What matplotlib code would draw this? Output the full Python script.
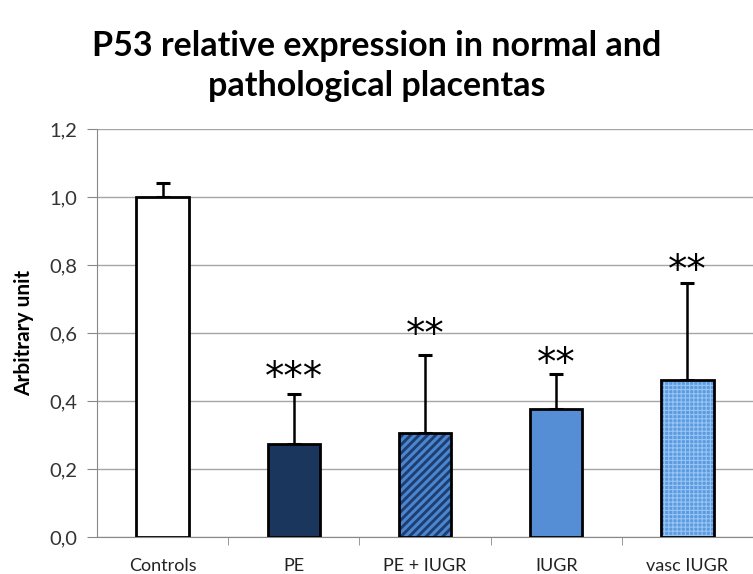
import matplotlib
matplotlib.use("Agg")
import matplotlib.pyplot as plt
from matplotlib.ticker import FuncFormatter, MultipleLocator

categories = ["Controls", "PE", "PE + IUGR", "IUGR", "vasc IUGR"]
values = [1.00, 0.275, 0.305, 0.378, 0.462]
errors = [0.042, 0.145, 0.23, 0.103, 0.285]
stars = ["", "***", "**", "**", "**"]
star_heights = [None, 0.435, 0.563, 0.477, 0.751]

plt.rcParams["font.family"] = ["Lato", "DejaVu Sans"]
plt.rcParams["hatch.linewidth"] = 2.2

fig = plt.figure(figsize=(7.53, 5.74), dpi=100)
ax = fig.add_axes([0.129, 0.0645, 0.871, 0.7105])

x = list(range(len(categories)))
faces = ["white", "#1b365d", "#1f3d6e", "#558ed5", "#5b9be2"]
hatches = [None, None, "////", None, "++++"]
hatch_cols = [None, None, "#4a86d0", None, "#98c5f2"]
hatch_lws = [None, None, 2.2, None, 0.8]

for i in x:
    b = ax.bar(i, values[i], width=0.4, color=faces[i], edgecolor="black",
               linewidth=2.0, zorder=3)
    if hatches[i]:
        bar = b[0]
        bar.set_hatch(hatches[i])
        bar._hatch_color = matplotlib.colors.to_rgba(hatch_cols[i])
        if hasattr(bar, "set_hatch_linewidth"):
            bar.set_hatch_linewidth(hatch_lws[i])
    ax.errorbar(i, values[i], yerr=[[0], [errors[i]]], fmt="none", ecolor="black",
                elinewidth=1.8, capsize=5, capthick=2.2, zorder=2)
    if stars[i]:
        ax.text(i, star_heights[i], stars[i], ha="center", va="baseline",
                fontsize=28, family="DejaVu Sans", zorder=4)

ax.set_xlim(-0.5, 4.5)
ax.set_ylim(0, 1.2)
ax.yaxis.set_major_locator(MultipleLocator(0.2))
ax.yaxis.set_major_formatter(FuncFormatter(lambda v, p: f"{v:.1f}".replace(".", ",")))
ax.set_xticks(x)
ax.set_xticklabels(categories)
ax.set_xticks([i + 0.5 for i in x[:-1]], minor=True)
ax.tick_params(axis="x", which="major", length=0, pad=15, labelsize=13, labelcolor="#222222")
ax.tick_params(axis="x", which="minor", length=6, color="#888888", direction="out")
ax.tick_params(axis="y", length=7, color="#888888", labelsize=14.5, pad=7, labelcolor="#333333")

ax.grid(axis="y", color="#a6a6a6", linewidth=1.0, zorder=0)
ax.set_axisbelow(True)
for s in ["top", "right"]:
    ax.spines[s].set_visible(False)
ax.spines["left"].set_color("#888888")
ax.spines["bottom"].set_color("#888888")

ax.set_ylabel("Arbitrary unit", fontsize=15, fontweight="bold", labelpad=11)

fig.text(0.5, 0.885, "P53 relative expression in normal and\npathological placentas",
         ha="center", va="center", fontsize=24.5, fontweight="bold", linespacing=1.3)

fig.savefig("out.png", dpi=100)
